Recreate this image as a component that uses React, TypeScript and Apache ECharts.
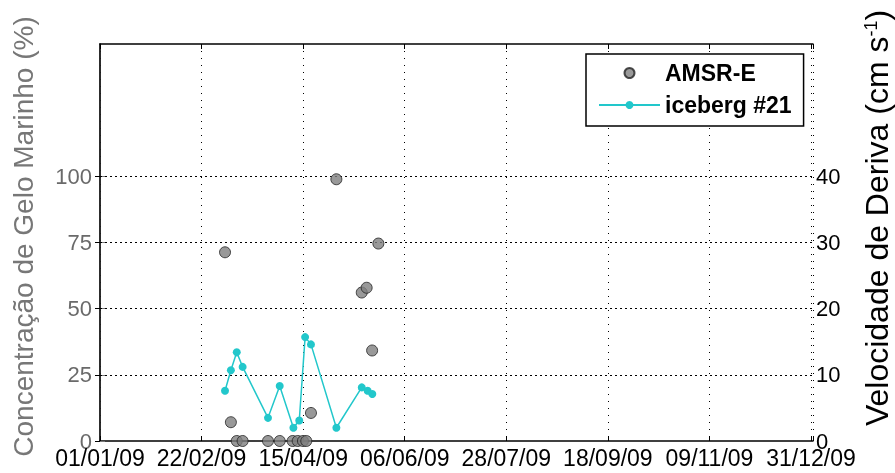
import React, { useEffect, useRef } from "react";
import * as echarts from "echarts";

// days since 01/01/09
const xTickLabels = ["01/01/09", "22/02/09", "15/04/09", "06/06/09", "28/07/09", "18/09/09", "09/11/09", "31/12/09"];
const amsrDays = [64, 67, 70, 73, 86, 92, 98.6, 101.2, 103.9, 105.6, 108, 121, 134, 136.5, 139.3, 142.5];
const amsrConc = [71.3, 7.1, 0, 0, 0, 0, 0, 0, 0, 0, 10.6, 98.9, 56.1, 57.9, 34.2, 74.6];
const icebergDays = [64, 67, 70, 73, 86, 92, 99, 102, 105, 108, 121, 134, 137, 139.4];
const icebergSpeed = [7.6, 10.7, 13.4, 11.2, 3.5, 8.3, 2.0, 3.1, 15.7, 14.6, 2.0, 8.1, 7.6, 7.1];
const leftTicks = [0, 25, 50, 75, 100];
const rightTicks = [0, 10, 20, 30, 40];

const FONT = "'Liberation Sans', Arial, Helvetica, sans-serif";

export default function App() {
  const ref = useRef<HTMLDivElement>(null);
  useEffect(() => {
    if (!ref.current) return;
    const chart = echarts.init(ref.current, null, { renderer: "svg" });
    const xFmt = (v: number) => {
      const i = v / 52;
      return Number.isInteger(i) && xTickLabels[i] ? xTickLabels[i] : "";
    };
    const xBase = {
      type: "value",
      min: 0,
      max: 365,
      interval: 52,
      axisLine: { show: true, onZero: false, lineStyle: { color: "#000", width: 1.5 } },
      axisTick: { show: true, inside: true, length: 5, lineStyle: { color: "#000" } },
    };
    chart.setOption({
      animation: false,
      textStyle: { fontFamily: FONT },
      grid: { left: 100, right: 82, top: 44, bottom: 32, containLabel: false },
      legend: {
        orient: "vertical",
        left: 586,
        top: 54,
        padding: [6, 12, 8, 12],
        itemGap: 6,
        itemWidth: 61,
        itemHeight: 10,
        borderColor: "#000",
        borderWidth: 1.5,
        backgroundColor: "#fff",
        textStyle: { fontFamily: FONT, fontSize: 23, fontWeight: "bold", color: "#000", lineHeight: 26 },
        data: ["AMSR-E", "iceberg #21"],
      },
      graphic: [
        {
          type: "text",
          x: 877,
          y: 218,
          rotation: Math.PI / 2,
          silent: true,
          style: {
            text: "Velocidade de Deriva (cm s{sup|-1})",
            fontSize: 32,
            lineHeight: 30,
            fontFamily: FONT,
            fill: "#000",
            align: "center",
            verticalAlign: "middle",
            rich: { sup: { fontSize: 18, lineHeight: 18, fontFamily: FONT, fill: "#000", padding: [0, 0, 12, 0] } },
          },
        },
      ],
      xAxis: [
        {
          ...xBase,
          position: "bottom",
          axisLabel: { show: true, formatter: xFmt, fontSize: 23, color: "#000", margin: 5, fontFamily: FONT },
          splitLine: { show: true, lineStyle: { color: "#000", type: [1, 6], width: 1 } },
        },
        {
          ...xBase,
          position: "top",
          axisLabel: { show: false },
          splitLine: { show: false },
        },
      ],
      yAxis: [
        {
          type: "value",
          position: "left",
          min: 0,
          max: 150,
          interval: 25,
          name: "Concentração de Gelo Marinho (%)",
          nameLocation: "middle",
          nameGap: 63,
          nameTextStyle: { fontSize: 28, color: "#777", fontFamily: FONT, padding: [0, 0, 0, 12] },
          axisLine: { show: true, lineStyle: { color: "#999", width: 1.5 } },
          axisTick: { show: true, inside: true, length: 5, customValues: leftTicks, lineStyle: { color: "#777" } },
          axisLabel: {
            fontSize: 22,
            color: "#6a6a6a",
            margin: 8,
            fontFamily: FONT,
            customValues: leftTicks,
            formatter: (v: number) => (leftTicks.includes(v) ? String(v) : ""),
          },
          splitLine: { show: false },
        },
        {
          type: "value",
          position: "right",
          min: 0,
          max: 60,
          interval: 10,
          axisLine: { show: true, lineStyle: { color: "#000", width: 1.5 } },
          axisTick: { show: true, inside: true, length: 5, customValues: rightTicks, lineStyle: { color: "#000" } },
          axisLabel: {
            fontSize: 22,
            color: "#000",
            margin: 3,
            fontFamily: FONT,
            customValues: rightTicks,
            formatter: (v: number) => (rightTicks.includes(v) ? String(v) : ""),
          },
          splitLine: { show: false },
        },
      ],
      series: [
        {
          name: "AMSR-E",
          type: "scatter",
          xAxisIndex: 0,
          yAxisIndex: 0,
          symbol: "circle",
          symbolSize: 11,
          clip: false,
          itemStyle: { color: "#808080", borderColor: "#222", borderWidth: 1 },
          data: amsrDays.map((d, i) => [d, amsrConc[i]]),
          z: 3,
          markLine: {
            silent: true,
            symbol: ["none", "none"],
            label: { show: false },
            lineStyle: { color: "#000", type: [2, 3], width: 1 },
            data: leftTicks.filter((v) => v > 0).map((v) => ({ yAxis: v })),
            z: 1,
          },
        },
        {
          name: "iceberg #21",
          type: "line",
          xAxisIndex: 0,
          yAxisIndex: 1,
          symbol: "circle",
          symbolSize: 8,
          showAllSymbol: true,
          lineStyle: { color: "#22c7cb", width: 1.5 },
          itemStyle: { color: "#22c7cb" },
          data: icebergDays.map((d, i) => [d, icebergSpeed[i]]),
          z: 4,
        },
      ],
    });
    return () => chart.dispose();
  }, []);
  return <div ref={ref} style={{ position: "fixed", left: 0, top: 0, width: 895, height: 473 }} />;
}
